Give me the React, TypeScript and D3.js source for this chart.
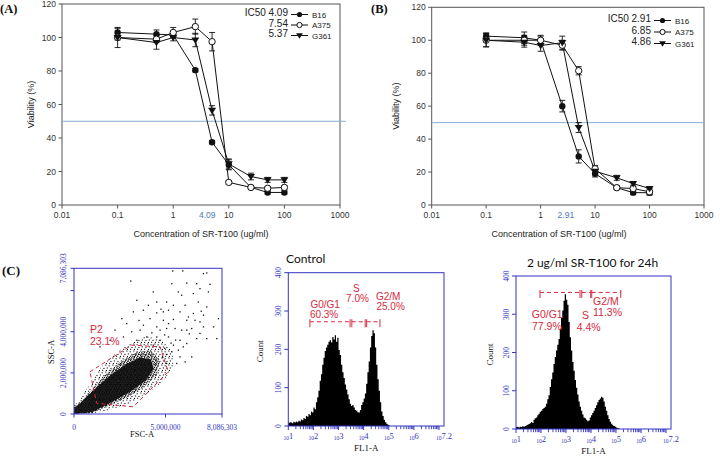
import React from 'react';
import * as d3 from 'd3';

// ---------------- DATA ----------------
const concentrations = [0.1, 0.5, 1, 2.5, 5, 10, 25, 50, 100];
const concTicks = [0.01, 0.1, 1, 10, 100, 1000];
const viabilityTicks = [0, 20, 40, 60, 80, 100, 120];
const seriesNames = ['B16', 'A375', 'G361'];

const b16A = [103, 102, 101.5, 80.5, 37.5, 24, 10.5, 7.5, 7.5];
const b16AErr = [2.5, 2.5, 1, 1, 1, 3, 1, 1, 1];
const a375A = [100, 99, 103, 106.5, 97.5, 13.5, 10.5, 10, 10.5];
const a375AErr = [1.5, 2, 3, 4.5, 5.5, 1, 1, 1, 1];
const g361A = [100, 97, 100, 98.5, 56.5, 24.5, 17, 15, 15];
const g361AErr = [6, 4, 2, 4, 2.8, 3, 2, 1.5, 1.5];
const ic50A = ['4.09', '7.54', '5.37'];

const b16B = [102.5, 101.5, 100, 60, 29.5, 19, 10.5, 7.5, 7.5];
const b16BErr = [2, 3.5, 2.5, 3.5, 4, 2, 1, 1, 1];
const a375B = [100, 100, 100, 97, 81.5, 22, 10.5, 10, 8];
const a375BErr = [4, 3, 3, 3, 2.5, 2, 1, 1, 2];
const g361B = [100, 98.8, 96.8, 98.5, 47, 20.5, 16.5, 13, 10];
const g361BErr = [4, 3, 3.5, 4, 3, 2, 1.5, 1, 1];
const ic50B = ['2.91', '6.85', '4.86'];

// Flow cytometry scatter (values in millions)
const fscTicks = [0, 5, 8.086303];
const fscTickLabels = ['0', '5,000,000', '8,086,303'];
const sscTicks = [0, 2, 4, 6, 7.086303];
const sscTickLabels = ['0', '2,000,000', '4,000,000', '', '7,086,303'];
const cloudHalo: [number, number][] = [
  [0, 0], [1.0, 0.02], [2.0, 0.2], [3.0, 0.5], [4.0, 1.0], [4.9, 1.6], [5.4, 2.3], [5.4, 3.0],
  [4.8, 3.6], [3.9, 3.8], [3.0, 3.4], [2.2, 2.9], [1.5, 2.3], [0.9, 1.5], [0.4, 0.8], [0, 0.4],
];
const cloudCore: [number, number][] = [
  [0, 0], [0.9, 0.03], [1.9, 0.4], [2.9, 0.8], [3.8, 1.3], [4.5, 1.9], [4.7, 2.6], [4.2, 3.1],
  [3.4, 3.0], [2.5, 2.5], [1.7, 1.9], [1.0, 1.2], [0.45, 0.65], [0, 0.35],
];
const cloudInner: [number, number][] = [
  [0, 0], [1.0, 0.1], [2.0, 0.55], [3.0, 1.05], [3.9, 1.6], [4.35, 2.2], [4.2, 2.65], [3.6, 2.75],
  [2.8, 2.4], [2.0, 1.9], [1.3, 1.35], [0.7, 0.85], [0.25, 0.45], [0, 0.3],
];
const scatterOutliers: [number, number][] = [
  [5.39, 6.96], [5.94, 6.96], [7.07, 6.83], [7.25, 6.86], [3.10, 6.47], [5.34, 6.34], [6.16, 6.37],
  [6.70, 6.34], [7.43, 6.31], [6.88, 6.10], [7.34, 5.94], [4.33, 5.94], [5.70, 5.94], [5.88, 5.78],
  [6.52, 5.86], [3.43, 5.53], [4.52, 5.45], [5.06, 5.45], [5.43, 5.29], [6.07, 5.29], [6.79, 5.45],
  [7.25, 5.21], [3.24, 4.97], [3.79, 5.05], [4.52, 4.92], [5.16, 5.05], [5.79, 4.97], [6.52, 4.89],
  [7.07, 4.81], [7.89, 4.64], [4.15, 4.64], [4.88, 4.56], [5.43, 4.60], [6.16, 4.56], [6.88, 4.48],
  [7.62, 4.24], [2.88, 4.40], [3.79, 4.32], [4.52, 4.24], [5.06, 4.16], [5.88, 4.08], [6.43, 4.16],
  [7.25, 3.67], [7.80, 3.67], [5.79, 3.59], [6.16, 3.43], [6.88, 3.92], [3.61, 4.08], [5.16, 3.75],
  [5.43, 3.35], [5.79, 2.78], [6.07, 2.54], [5.06, 2.46], [3.15, 4.00], [2.70, 3.75], [4.70, 3.59],
  [4.33, 3.35], [5.34, 3.03], [5.70, 3.11], [3.43, 3.59], [6.70, 3.67], [6.25, 4.72], [7.07, 4.24],
  [6.16, 4.08], [6.61, 4.56], [4.88, 4.97], [4.06, 5.29], [2.61, 4.64], [2.24, 4.08], [1.97, 3.59],
  [1.42, 3.27], [4.70, 4.08], [5.52, 4.16], [4.52, 3.75], [3.97, 3.75], [5.16, 4.40], [5.97, 3.27],
  [6.43, 2.78], [5.61, 2.46], [4.95, 3.85], [4.25, 3.95], [5.55, 3.6], [6.3, 3.9], [3.55, 4.55],
  [6.95, 5.0], [4.75, 5.1], [5.3, 3.45], [4.95, 3.2], [5.05, 2.9], [4.85, 2.75],
];
const gateP2: [number, number][] = [
  [0.87, 2.05], [3.15, 3.35], [4.7, 3.27], [5.15, 2.05], [3.24, 0.35], [1.24, 0.52],
];

// DNA histograms: counts per bin of log10(FL1-A), bins of 0.05 starting at 10^1
const controlCounts = [
  8, 10, 9, 7, 11, 9, 12, 10, 14, 12, 17, 15, 21, 18, 26, 24, 31, 28, 38, 35,
  48, 44, 62, 75, 92, 118, 135, 160, 178, 196, 205, 212, 220, 224, 218, 232, 226, 237, 220, 230,
  198, 185, 160, 140, 125, 108, 95, 82, 70, 58, 52, 55, 48, 42, 40, 36, 35, 42, 55, 62,
  72, 85, 110, 140, 168, 205, 235, 250, 242, 205, 160, 122, 92, 62, 38, 26, 16, 10, 6, 3, 1, 0,
];
const treatedCounts = [
  5, 6, 4, 6, 5, 7, 6, 8, 9, 11, 13, 15, 18, 16, 24, 28, 30, 36, 40, 45,
  48, 52, 55, 58, 66, 78, 88, 110, 130, 148, 170, 188, 205, 220, 235, 262, 290, 310, 335, 352,
  338, 325, 280, 240, 205, 175, 152, 128, 108, 90, 72, 58, 48, 38, 30, 28, 24, 20, 22, 30,
  36, 42, 48, 55, 62, 70, 76, 80, 84, 82, 72, 58, 48, 36, 26, 19, 14, 10, 8, 6, 4, 2, 1, 0,
];
const countTicks = [0, 100, 200, 300, 400];
const decadeTicks = [1, 2, 3, 4, 5, 6, 7];
const decadeLabels = ['1', '2', '3', '4', '5', '6', '7.2'];
const decadeLabelPos = [1, 2, 3, 4, 5, 6, 7.2];

const controlGates = [
  { from: 1.86, to: 3.46 }, { from: 3.53, to: 4.06 }, { from: 4.12, to: 4.65 },
];
const controlGateLevel = 272;
const controlGateLabels = [
  { text: 'G0/G1', x: 1.88, y: 307 }, { text: '60.3%', x: 1.86, y: 281 },
  { text: 'S', x: 3.58, y: 349 }, { text: '7.0%', x: 3.30, y: 324 },
  { text: 'G2/M', x: 4.49, y: 328 }, { text: '25.0%', x: 4.51, y: 302 },
];
const treatedGates = [
  { from: 1.96, to: 3.56 }, { from: 3.63, to: 3.99 }, { from: 4.03, to: 5.19 },
];
const treatedGateLevel = 357;
const treatedGateLabels = [
  { text: 'G0/G1', x: 1.63, y: 290 }, { text: '77.9%', x: 1.64, y: 260 },
  { text: 'S', x: 3.64, y: 287 }, { text: '4.4%', x: 3.43, y: 257 },
  { text: 'G2/M', x: 4.08, y: 325 }, { text: '11.3%', x: 4.08, y: 296 },
];

// ---------------- STYLE ----------------
const SANS = 'Liberation Sans, Arial, sans-serif';
const SERIF = 'Liberation Serif, Times New Roman, serif';
const BLUE = '#3535c0';
const RED = '#d42a40';
const INK = '#111';

type Series = { name: string; values: number[]; errors: number[]; marker: string };

function Marker({ type, x, y, r = 3.2 }: { type: string; x: number; y: number; r?: number }) {
  if (type === 'open') return <circle cx={x} cy={y} r={r} fill="#fff" stroke={INK} strokeWidth={1} />;
  if (type === 'filled') return <circle cx={x} cy={y} r={r} fill={INK} />;
  const s = r + 0.8;
  return <path d={`M${x - s},${y - s * 0.65}L${x + s},${y - s * 0.65}L${x},${y + s * 0.95}Z`} fill={INK} />;
}

function ViabilityPanel(props: {
  left: number; right: number; top: number; bottom: number; series: Series[]; ic50: string[];
  ic50Text: string; refExtend: number; legendX: number; legendY: number; legendStep: number;
  panelLabel: string; labelX: number; titleX: number; yTitleX: number;
}) {
  const { left, right, top, bottom, series, ic50, legendX, legendY, legendStep } = props;
  const x = d3.scaleLog().domain([0.01, 1000]).range([left, right]);
  const y = d3.scaleLinear().domain([0, 120]).range([bottom, top]);
  const line = d3.line<number>().x((_, i) => x(concentrations[i])).y((d) => y(d));
  return (
    <g fontFamily={SANS}>
      <text x={props.labelX} y={12.5} fontFamily={SERIF} fontWeight="bold" fontSize={12.5} fill="#111">{props.panelLabel}</text>
      <rect x={left} y={top} width={right - left} height={bottom - top} fill="none" stroke="#555" strokeWidth={1} />
      <line x1={left} x2={right + props.refExtend} y1={y(50)} y2={y(50)} stroke="#86aed3" strokeWidth={1} />
      {viabilityTicks.map((t) => (
        <g key={t}>
          <line x1={left - 3.5} x2={left} y1={y(t)} y2={y(t)} stroke="#555" />
          <text x={left - 6} y={y(t) + 3} textAnchor="end" fontSize={8.5} fill="#333">{t}</text>
        </g>
      ))}
      {concTicks.map((t) => (
        <g key={t}>
          <line x1={x(t)} x2={x(t)} y1={bottom} y2={bottom + 3.5} stroke="#555" />
          <text x={x(t)} y={bottom + 13} textAnchor="middle" fontSize={8.5} fill="#333">{t}</text>
        </g>
      ))}
      <text x={x(parseFloat(props.ic50Text))} y={bottom + 13} textAnchor="middle" fontSize={8.5} fill="#4a7ab8">{props.ic50Text}</text>
      <text x={props.titleX} y={bottom + 31.5} textAnchor="middle" fontSize={9} fill="#222">Concentration of SR-T100 (ug/ml)</text>
      <text transform={`translate(${props.yTitleX},${(top + bottom) / 2}) rotate(-90)`} textAnchor="middle" fontSize={9} fill="#222">Viability (%)</text>
      {series.map((s) => (
        <path key={s.name + 'l'} d={line(s.values) || ''} fill="none" stroke={INK} strokeWidth={1} />
      ))}
      {series.map((s) =>
        s.values.map((v, i) => {
          const cx = x(concentrations[i]);
          const y1 = y(v + s.errors[i]);
          const y2 = y(v - s.errors[i]);
          return (
            <g key={s.name + 'e' + i} stroke={INK} strokeWidth={0.9}>
              <line x1={cx} x2={cx} y1={y1} y2={y2} />
              <line x1={cx - 3} x2={cx + 3} y1={y1} y2={y1} />
              <line x1={cx - 3} x2={cx + 3} y1={y2} y2={y2} />
            </g>
          );
        })
      )}
      {series.map((s) =>
        s.values.map((v, i) => <Marker key={s.name + 'm' + i} type={s.marker} x={x(concentrations[i])} y={y(v)} />)
      )}
      {series.map((s, k) => {
        const ly = legendY + k * legendStep;
        return (
          <g key={s.name + 'lg'}>
            <text x={legendX - 3} y={ly + 2.5} textAnchor="end" fontSize={10} fill="#222">
              {k === 0 ? `IC50 ${ic50[k]}` : ic50[k]}
            </text>
            <line x1={legendX} x2={legendX + 17} y1={ly + 1} y2={ly + 1} stroke={INK} />
            <Marker type={s.marker} x={legendX + 8.5} y={ly + 1} r={2.6} />
            <text x={legendX + 21} y={ly + 4} fontSize={8} fill="#222">{s.name}</text>
          </g>
        );
      })}
    </g>
  );
}

function ScatterPanel() {
  const left = 74, right = 222, top = 268.3, bottom = 414;
  const x = d3.scaleLinear().domain([0, 8.086303]).range([left, right]);
  const y = d3.scaleLinear().domain([0, 7.086303]).range([bottom, top]);
  const poly = (pts: [number, number][]) => 'M' + pts.map((p) => `${x(p[0])},${y(p[1])}`).join('L') + 'Z';
  return (
    <g>
      <defs>
        <pattern id="dotsSparse" width={7} height={7} patternUnits="userSpaceOnUse">
          <rect x={0.3} y={0.5} width={1.1} height={1.1} fill="#111" />
          <rect x={3.6} y={1.2} width={1.1} height={1.1} fill="#111" />
          <rect x={5.4} y={3.9} width={1.1} height={1.1} fill="#111" />
          <rect x={1.8} y={3.4} width={1.1} height={1.1} fill="#111" />
          <rect x={4.1} y={5.8} width={1.1} height={1.1} fill="#111" />
          <rect x={0.9} y={5.9} width={1.1} height={1.1} fill="#111" />
        </pattern>
        <pattern id="dotsDense" width={5} height={5} patternUnits="userSpaceOnUse">
          <rect x={0} y={0} width={1.3} height={1.3} fill="#111" />
          <rect x={2.2} y={0.6} width={1.3} height={1.3} fill="#111" />
          <rect x={3.9} y={1.8} width={1.3} height={1.3} fill="#111" />
          <rect x={1.1} y={2.2} width={1.3} height={1.3} fill="#111" />
          <rect x={2.8} y={3.4} width={1.3} height={1.3} fill="#111" />
          <rect x={0.4} y={3.9} width={1.3} height={1.3} fill="#111" />
          <rect x={4.2} y={4.2} width={1.2} height={1.2} fill="#111" />
        </pattern>
      </defs>
      <text x={2} y={275} fontFamily={SERIF} fontWeight="bold" fontSize={13} fill="#111">(C)</text>
      <path d={poly(cloudHalo)} fill="url(#dotsSparse)" />
      <path d={poly(cloudCore)} fill="url(#dotsDense)" />
      <path d={poly(cloudInner)} fill="#0a0a0a" fillOpacity={0.9} />
      {scatterOutliers.map((p, i) => (
        <rect key={i} x={x(p[0]) - 0.6} y={y(p[1]) - 0.6} width={1.3} height={1.3} fill="#111" />
      ))}
      <path d={poly(gateP2)} fill="none" stroke={RED} strokeWidth={1} strokeDasharray="4,3" />
      <text x={x(0.87)} y={y(3.92)} fontFamily={SANS} fontSize={10.5} fill={RED}>P2</text>
      <text x={x(0.87)} y={y(3.38)} fontFamily={SANS} fontSize={10.5} fill={RED}>23.1%</text>
      <rect x={left} y={top} width={right - left} height={bottom - top} fill="none" stroke={BLUE} strokeWidth={1} />
      {fscTicks.map((t, i) => (
        <g key={i}>
          <line x1={x(t)} x2={x(t)} y1={bottom} y2={bottom + 3.5} stroke={BLUE} />
          <text x={x(t)} y={bottom + 15.5} textAnchor="middle" fontFamily={SERIF} fontSize={7.5} fill={BLUE}>{fscTickLabels[i]}</text>
        </g>
      ))}
      {sscTicks.map((t, i) => (
        <g key={i}>
          <line x1={left - 3.5} x2={left} y1={y(t)} y2={y(t)} stroke={BLUE} />
          <text transform={`translate(${left - 8.5},${y(t)}) rotate(-90)`} textAnchor="middle" fontFamily={SERIF} fontSize={7.5} fill={BLUE}>{sscTickLabels[i]}</text>
        </g>
      ))}
      <text x={(left + right) / 2 - 6} y={437} textAnchor="middle" fontFamily={SERIF} fontSize={8.5} fill="#111">FSC-A</text>
      <text transform={`translate(${54},${352}) rotate(-90)`} textAnchor="middle" fontFamily={SERIF} fontSize={8.5} fill="#111">SSC-A</text>
    </g>
  );
}

function HistogramPanel(props: {
  left: number; right: number; top: number; bottom: number; counts: number[];
  gates: { from: number; to: number }[]; gateLevel: number; gateLabels: { text: string; x: number; y: number }[];
  title: string; titleX: number; titleY: number; titleAnchor: string; countX: number; labelSize: number;
}) {
  const { left, right, top, bottom, counts } = props;
  const x = d3.scaleLinear().domain([1, 7.2]).range([left, right]);
  const y = d3.scaleLinear().domain([0, 400]).range([bottom, top]);
  const edges = d3.range(counts.length + 1).map((i) => 1 + i * 0.05);
  const pts = edges.map((e, i) => ({ e, c: counts[Math.min(i, counts.length - 1)] }));
  const area = d3.area<{ e: number; c: number }>().x((d) => x(d.e)).y0(bottom).y1((d) => y(d.c)).curve(d3.curveStepAfter);
  const minor: number[] = [];
  for (let d = 1; d < 7; d++) for (let k = 2; k < 10; k++) minor.push(d + Math.log10(k));
  const gy = y(props.gateLevel);
  return (
    <g>
      <text x={props.titleX} y={props.titleY} textAnchor={props.titleAnchor} fontFamily="Lato, Open Sans, sans-serif" fontSize={12} fill="#111">{props.title}</text>
      <path d={area(pts) || ''} fill="#000" />
      <rect x={left} y={top} width={right - left} height={bottom - top} fill="none" stroke={BLUE} strokeWidth={1} />
      {countTicks.map((t) => (
        <g key={t}>
          <line x1={left - 4} x2={left} y1={y(t)} y2={y(t)} stroke={BLUE} />
          <text transform={`translate(${left - 7.5},${y(t)}) rotate(-90)`} textAnchor="middle" fontFamily={SERIF} fontSize={7.5} fill={BLUE}>{t}</text>
        </g>
      ))}
      {decadeTicks.map((t) => (
        <line key={t} x1={x(t)} x2={x(t)} y1={bottom} y2={bottom + 4} stroke={BLUE} />
      ))}
      {minor.map((t, i) => (
        <line key={i} x1={x(t)} x2={x(t)} y1={bottom} y2={bottom + 3.2} stroke={BLUE} strokeWidth={0.9} />
      ))}
      {decadeLabels.map((l, i) => (
        <text key={l} x={x(decadeLabelPos[i])} y={bottom + 14} textAnchor="middle" fontFamily={SERIF} fill={BLUE}>
          <tspan fontSize={5.5}>10</tspan>
          <tspan fontSize={8.5} dy={-1.5}>{l}</tspan>
        </text>
      ))}
      <text x={(left + right) / 2} y={bottom + 25} textAnchor="middle" fontFamily={SERIF} fontSize={9} fill="#111">FL1-A</text>
      <text transform={`translate(${props.countX},${(top + bottom) / 2 + 2}) rotate(-90)`} textAnchor="middle" fontFamily={SERIF} fontSize={9} fill="#111">Count</text>
      {props.gates.map((g, i) => (
        <g key={i} stroke={RED} strokeWidth={1}>
          <line x1={x(g.from)} x2={x(g.to)} y1={gy} y2={gy} strokeDasharray="4,3" />
          <line x1={x(g.from)} x2={x(g.from)} y1={gy - 2.5} y2={gy + 5.5} />
          <line x1={x(g.to)} x2={x(g.to)} y1={gy - 2.5} y2={gy + 5.5} />
        </g>
      ))}
      {props.gateLabels.map((l, i) => (
        <text key={i} x={x(l.x)} y={y(l.y)} fontFamily={SANS} fontSize={props.labelSize} fill={RED}>{l.text}</text>
      ))}
    </g>
  );
}

export default function App() {
  const seriesA: Series[] = [
    { name: seriesNames[0], values: b16A, errors: b16AErr, marker: 'filled' },
    { name: seriesNames[1], values: a375A, errors: a375AErr, marker: 'open' },
    { name: seriesNames[2], values: g361A, errors: g361AErr, marker: 'triangle' },
  ];
  const seriesB: Series[] = [
    { name: seriesNames[0], values: b16B, errors: b16BErr, marker: 'filled' },
    { name: seriesNames[1], values: a375B, errors: a375BErr, marker: 'open' },
    { name: seriesNames[2], values: g361B, errors: g361BErr, marker: 'triangle' },
  ];
  return (
    <svg width={720} height={459} viewBox="0 0 720 459" style={{ position: 'absolute', left: 0, top: 0, background: '#fff' }}>
      <rect x={0} y={0} width={720} height={459} fill="#fff" />
      <ViabilityPanel left={62} right={340} top={4} bottom={205} series={seriesA} ic50={ic50A} ic50Text="4.09"
        refExtend={6} legendX={291} legendY={13.5} legendStep={10.5} panelLabel="(A)" labelX={0} titleX={201} yTitleX={34} />
      <ViabilityPanel left={431.7} right={704} top={7.3} bottom={205} series={seriesB} ic50={ic50B} ic50Text="2.91"
        refExtend={1} legendX={654} legendY={19.5} legendStep={11.5} panelLabel="(B)" labelX={371} titleX={559} yTitleX={399} />
      <ScatterPanel />
      <HistogramPanel left={288.3} right={444} top={272.7} bottom={426} counts={controlCounts}
        gates={controlGates} gateLevel={controlGateLevel} gateLabels={controlGateLabels} labelSize={10}
        title="Control" titleX={286} titleY={263.3} titleAnchor="start" countX={263} />
      <HistogramPanel left={516} right={671} top={276} bottom={429} counts={treatedCounts}
        gates={treatedGates} gateLevel={treatedGateLevel} gateLabels={treatedGateLabels} labelSize={10.5}
        title="2 ug/ml SR-T100 for 24h" titleX={592.5} titleY={266.7} titleAnchor="middle" countX={492.7} />
    </svg>
  );
}
